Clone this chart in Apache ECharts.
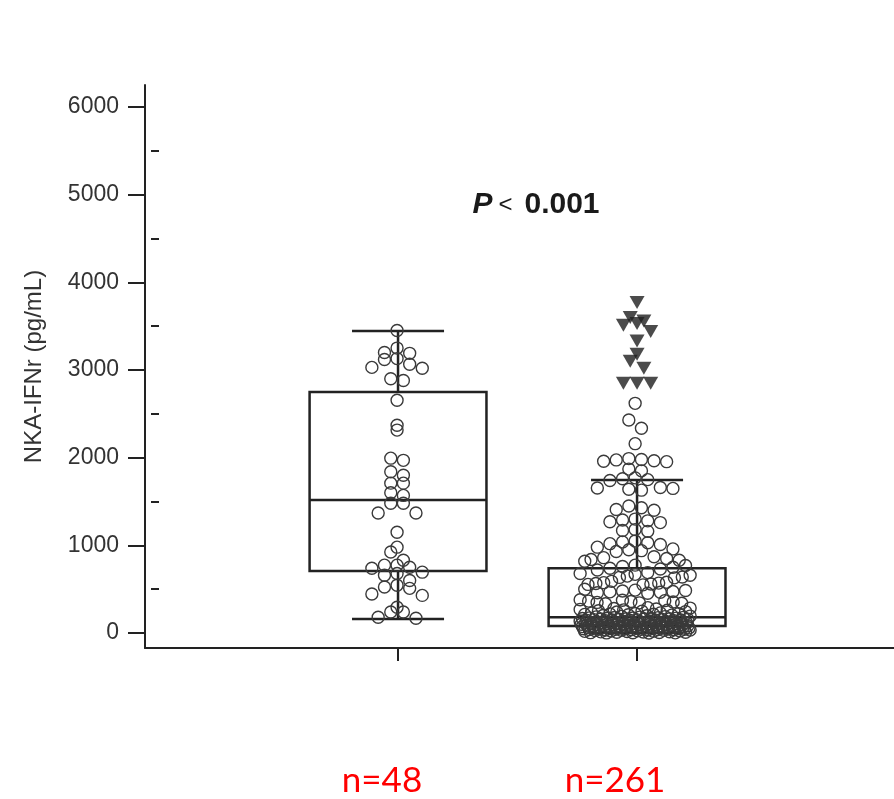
<!DOCTYPE html>
<html><head><meta charset="utf-8">
<script src="https://cdn.jsdelivr.net/npm/echarts@6/dist/echarts.min.js"></script>
<style>html,body{margin:0;padding:0;background:#fff}#c{width:894px;height:799px}</style>
</head><body><div id="c"></div>
<script>
// ---------------- data ----------------
const groupPositions = [1, 2];
const groupLabels = ['n=48', 'n=261'];
const yAxisName = 'NKA-IFNr (pg/mL)';
const yTicks = [0, 1000, 2000, 3000, 4000, 5000, 6000];
const yMinorTicks = [500, 1500, 2500, 3500, 4500, 5500];
// [min, Q1, median, Q3, max]
const boxStats1 = [160, 707, 1517, 2750, 3444];
const boxStats2 = [5, 80, 182, 740, 1745];
const group1Values = [3450, 3250, 3200, 3190, 3130, 3120, 3065, 3030, 3020, 2900,
  2880, 2655, 2370, 2315, 1995, 1970, 1840, 1800, 1710, 1710,
  1600, 1570, 1480, 1480, 1370, 1370, 1150, 980, 925, 830,
  775, 775, 750, 740, 695, 680, 660, 600, 545, 525,
  510, 445, 430, 295, 240, 240, 180, 170];
const group2Values = [2620, 2430, 2335, 2160,
  1990, 1975, 1960, 1965, 1980, 1955,
  1870, 1850,
  1770, 1760, 1750, 1740,
  1660, 1650, 1640, 1655, 1630,
  1450, 1430, 1410, 1400,
  1300, 1290, 1280, 1270, 1260,
  1180, 1170, 1160,
  1040, 1030, 1020, 1010, 1050,
  980, 960, 950, 940, 930,
  870, 860, 850, 840, 830, 820,
  775, 770, 760, 750, 740, 730, 720,
  690, 680, 670, 660, 650, 640, 635, 630,
  590, 580, 575, 570, 565, 560, 555, 550,
  500, 490, 485, 480, 475, 470, 465, 460, 455,
  380, 375, 370, 365, 360, 355, 350, 345, 340, 335,
  290, 285, 280, 275, 270, 265, 260, 255, 250, 245, 240,
  230, 228, 224, 222, 219, 215, 213, 209, 205, 201, 198, 194, 191, 188, 185, 182,
  179, 178, 176, 174, 172, 171, 169, 168, 166, 164, 163, 161, 160, 158, 157, 155,
  153, 151, 150, 148, 147, 145, 143, 141, 140, 138, 136, 135, 133, 131, 130, 128,
  126, 125, 123, 121, 120, 118, 117, 115, 113, 111, 110, 108, 106, 105, 103, 101,
  100, 98, 97, 96, 94, 93, 91, 90, 88, 87, 86, 85, 83, 82, 81, 80, 79,
  78, 77, 76, 74, 74, 73, 71, 70, 69, 68, 66, 66, 64, 63, 62, 61,
  59, 58, 57, 56, 54, 53, 52, 51, 50, 49, 47, 46, 45, 44, 43, 41,
  40, 39, 38, 36, 35, 34, 32, 31, 29, 27, 25, 24, 22, 20, 18, 16,
  14, 12, 10, 9, 7, 5, 4, 3, 2, 1];
const group2Outliers = [3770, 3600, 3560, 3530, 3510, 3440, 3330, 3180, 3100, 3020, 2850, 2850, 2850];
const pText = 'P';
const pRest = '0.001';

// ---------------- styles ----------------
const AX = '#222';
const boxWidthUnits = 0.74;
const capWidthUnits = 0.385;
const dotSize = 12;

const chart = echarts.init(document.getElementById('c'));

const gridRect = { left: 145, right: 0, top: 85, bottom: 151 };
const xMin = -0.0586, xMax = 3.075, yMin = -170, yMax = 6250;

const baseOption = {
  animation: false,
  backgroundColor: '#fff',
  grid: [Object.assign({}, gridRect), Object.assign({}, gridRect)],
  xAxis: [{
    type: 'value', gridIndex: 0, min: xMin, max: xMax,
    axisLine: { show: true, onZero: false, lineStyle: { color: AX, width: 2 } },
    axisTick: { show: true, customValues: groupPositions, length: 13, inside: false, lineStyle: { color: AX, width: 2 } },
    axisLabel: { show: false },
    splitLine: { show: false }
  }, {
    type: 'value', gridIndex: 1, min: xMin, max: xMax, show: false
  }],
  yAxis: [{
    type: 'value', gridIndex: 0, min: yMin, max: yMax,
    name: yAxisName, nameLocation: 'middle', nameGap: 99,
    nameTextStyle: { fontSize: 24, color: '#333', fontFamily: 'Liberation Sans' },
    axisLine: { show: true, onZero: false, lineStyle: { color: AX, width: 2 } },
    axisTick: { show: true, customValues: yTicks, length: 17, lineStyle: { color: AX, width: 2 } },
    axisLabel: { show: true, customValues: yTicks, fontSize: 23, color: '#333', margin: 26,
      fontFamily: 'Liberation Sans', formatter: v => String(v) },
    splitLine: { show: false }
  }, {
    type: 'value', gridIndex: 1, min: yMin, max: yMax,
    axisLine: { show: false },
    axisTick: { show: true, customValues: yMinorTicks, length: 8, lineStyle: { color: AX, width: 2 } },
    axisLabel: { show: false },
    splitLine: { show: false }
  }],
  graphic: [
    { type: 'text', x: 382, y: 781, z: 10,
      style: { text: groupLabels[0], fill: '#ff0000', font: '35px Lato', align: 'center', verticalAlign: 'middle' } },
    { type: 'text', x: 615, y: 781, z: 10,
      style: { text: groupLabels[1], fill: '#ff0000', font: '35px Lato', align: 'center', verticalAlign: 'middle' } },
    { type: 'text', x: 536, y: 205, z: 10,
      style: {
        text: '{p|' + pText + '}{lt|<}{n|' + pRest + '}',
        align: 'center', verticalAlign: 'middle',
        rich: {
          p: { fontSize: 30, fontWeight: 'bold', fontStyle: 'italic', fontFamily: 'Liberation Sans', fill: '#1a1a1a' },
          lt: { fontSize: 24, fontFamily: 'Liberation Sans', fill: '#1a1a1a', padding: [0, 12, 0, 6] },
          n: { fontSize: 30, fontWeight: 'bold', fontFamily: 'Liberation Sans', fill: '#1a1a1a' }
        }
      } }
  ],
  series: []
};
chart.setOption(baseOption);

const p0 = chart.convertToPixel({ gridIndex: 0 }, [0, 0]);
const p1 = chart.convertToPixel({ gridIndex: 0 }, [1, 1000]);
const pxPerX = p1[0] - p0[0];
const pxPerY = (p0[1] - p1[1]) / 1000;

function gcd(a, b) { return b ? gcd(b, a % b) : a; }
function swarm(values, center, dPx, maxSpreadPx) {
  const binH = dPx / pxPerY;
  const bins = {};
  values.forEach(v => { const b = Math.floor(v / binH); (bins[b] = bins[b] || []).push(v); });
  const out = [];
  Object.keys(bins).forEach(k => {
    const arr = bins[k].slice().sort((a, b) => b - a);
    const n = arr.length;
    const sp = n > 1 ? Math.min(dPx * 1.05, maxSpreadPx / (n - 1)) : 0;
    const offs = [];
    for (let j = 0; j < n; j++) offs.push((j - (n - 1) / 2) * sp);
    if (n <= 8) {
      offs.sort((a, b) => Math.abs(a) - Math.abs(b) || a - b);
      arr.forEach((v, j) => out.push([center + offs[j] / pxPerX, v]));
    } else {
      // spread values evenly across the row (stride permutation)
      let s = Math.max(2, Math.round(n * 0.382));
      while (gcd(s, n) !== 1) s++;
      arr.forEach((v, j) => out.push([center + offs[(j * s) % n] / pxPerX, v]));
    }
  });
  return out;
}

const pts1 = swarm(group1Values, groupPositions[0] - 0.004, dotSize, 58);
const pts2 = swarm(group2Values, groupPositions[1] - 0.008, dotSize, 110);
const pts2o = swarm(group2Outliers, groupPositions[1], 13, 40);

function renderBox(params, api) {
  const x = api.value(0);
  const mn = api.value(1), q1 = api.value(2), md = api.value(3), q3 = api.value(4), mx = api.value(5);
  const c = api.coord([x, md]);
  const half = api.size([boxWidthUnits, 0])[0] / 2;
  const capHalf = api.size([capWidthUnits, 0])[0] / 2;
  const y = v => api.coord([x, v])[1];
  const st = { stroke: AX, lineWidth: 2.5, fill: null };
  return {
    type: 'group',
    children: [
      { type: 'line', shape: { x1: c[0], y1: y(q3), x2: c[0], y2: y(mx) }, style: st },
      { type: 'line', shape: { x1: c[0], y1: y(q1), x2: c[0], y2: y(mn) }, style: st },
      { type: 'line', shape: { x1: c[0] - capHalf, y1: y(mx), x2: c[0] + capHalf, y2: y(mx) }, style: st },
      { type: 'line', shape: { x1: c[0] - capHalf, y1: y(mn), x2: c[0] + capHalf, y2: y(mn) }, style: st },
      { type: 'rect', shape: { x: c[0] - half, y: y(q3), width: half * 2, height: y(q1) - y(q3) }, style: { stroke: AX, lineWidth: 2.5, fill: 'none' } },
      { type: 'line', shape: { x1: c[0] - half, y1: y(md), x2: c[0] + half, y2: y(md) }, style: st }
    ]
  };
}

chart.setOption({
  series: [
    {
      type: 'custom', xAxisIndex: 0, yAxisIndex: 0, z: 2,
      renderItem: renderBox,
      encode: { x: 0, y: [1, 2, 3, 4, 5] },
      data: [[groupPositions[0]].concat(boxStats1), [groupPositions[1]].concat(boxStats2)]
    },
    {
      type: 'scatter', xAxisIndex: 0, yAxisIndex: 0, z: 3,
      symbol: 'circle', symbolSize: dotSize,
      itemStyle: { color: 'rgba(255,255,255,0)', borderColor: '#3a3a3a', borderWidth: 1.4, opacity: 1 },
      data: pts1.concat(pts2)
    },
    {
      type: 'scatter', xAxisIndex: 0, yAxisIndex: 0, z: 4,
      symbol: 'triangle', symbolRotate: 180, symbolSize: [15, 13],
      itemStyle: { color: '#1e1e1e' },
      data: pts2o
    }
  ]
});
</script></body></html>
